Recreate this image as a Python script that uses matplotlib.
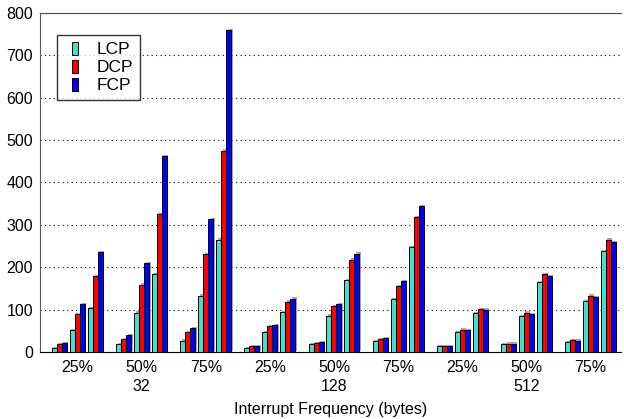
import numpy as np
import matplotlib
matplotlib.use("Agg")
import matplotlib.pyplot as plt
import matplotlib.patheffects as pe
from matplotlib.patches import Patch, Rectangle
from matplotlib.legend_handler import HandlerPatch

plt.rcParams['font.family'] = ['Liberation Sans', 'DejaVu Sans']

freq_labels = ['25%', '50%', '75%'] * 3
size_labels = ['32', '128', '512']
series = ['LCP', 'DCP', 'FCP']
colors = ['#40E0D0', '#FF0000', '#0000FF']

# each group has 3 sub-groups, each with one bar per series
lcp = [[10, 52, 104], [19, 93, 184], [27, 133, 265],
       [10, 47, 94], [18, 86, 170], [25, 124, 247],
       [13, 47, 91], [18, 84, 165], [24, 120, 239]]
dcp = [[18, 90, 180], [31, 159, 325], [46, 231, 475],
       [13, 61, 119], [22, 108, 218], [31, 156, 319],
       [14, 53, 102], [20, 93, 183], [28, 133, 265]]
fcp = [[22, 112, 236], [39, 210, 462], [57, 314, 759],
       [14, 63, 126], [24, 114, 232], [33, 167, 344],
       [13, 51, 100], [20, 90, 179], [27, 130, 260]]
values = [lcp, dcp, fcp]

fig = plt.figure(figsize=(6.24, 4.19), dpi=100)
ax = fig.add_axes([40/624, 1-352/419, 581/624, (352-12.7)/419])

bw = 0.078
sub_off = [-0.28, 0.0, 0.28]
shadow = [pe.SimplePatchShadow(offset=(1.0, 0.8), shadow_rgbFace='0.55', alpha=0.8), pe.Normal()]
for s in range(3):
    arr = np.array(values[s])
    for k in range(3):
        x = np.arange(9) + sub_off[k] + (s - 1) * bw
        bars = ax.bar(x, arr[:, k], width=bw, color=colors[s], edgecolor='black',
                      linewidth=0.7, zorder=3)
        for b in bars:
            b.set_path_effects(shadow)

ax.set_xlim(-0.585, 8.476)
ax.set_ylim(0, 800)
ax.set_yticks(range(0, 801, 100))
ax.yaxis.grid(True, linestyle=(0, (1, 3)), color='black', linewidth=0.8)
ax.set_axisbelow(True)
ax.tick_params(axis='y', length=0, pad=5, labelsize=11.5)
ax.set_xticks(np.arange(9))
ax.set_xticklabels(freq_labels, fontsize=11.5)
ax.tick_params(axis='x', length=0, pad=6)

for i, lab in enumerate(size_labels):
    ax.text(1 + 3 * i, -0.103, lab, transform=ax.get_xaxis_transform(),
            ha='center', va='center', fontsize=11.5)
ax.text(0.5, -0.168, 'Interrupt Frequency (bytes)', transform=ax.transAxes,
        ha='center', va='center', fontsize=11.5)

ax.spines['right'].set_visible(False)
ax.spines['top'].set_color('0.3')
ax.spines['top'].set_linestyle((0, (2, 1)))
ax.spines['left'].set_color('0.35')
ax.spines['bottom'].set_color('black')


def narrow_rect(legend, orig_handle, xdescent, ydescent, width, height, fontsize):
    w = 6 * 72 / 100
    return Rectangle((width / 2 - w / 2 - xdescent, -ydescent), w, height)


handles = [Patch(facecolor=c, edgecolor='black', linewidth=0.7) for c in colors]
leg = ax.legend(handles, series, loc='upper left', bbox_to_anchor=(0.029, 0.934),
                fontsize=12.5, frameon=True, fancybox=False, edgecolor='black',
                handlelength=1.26, handleheight=0.75, handletextpad=0.63,
                borderpad=0.4, labelspacing=0.15, borderaxespad=0,
                handler_map={Patch: HandlerPatch(patch_func=narrow_rect)})
leg.get_frame().set_linewidth(1.0)

fig.savefig('out.png', dpi=100)
